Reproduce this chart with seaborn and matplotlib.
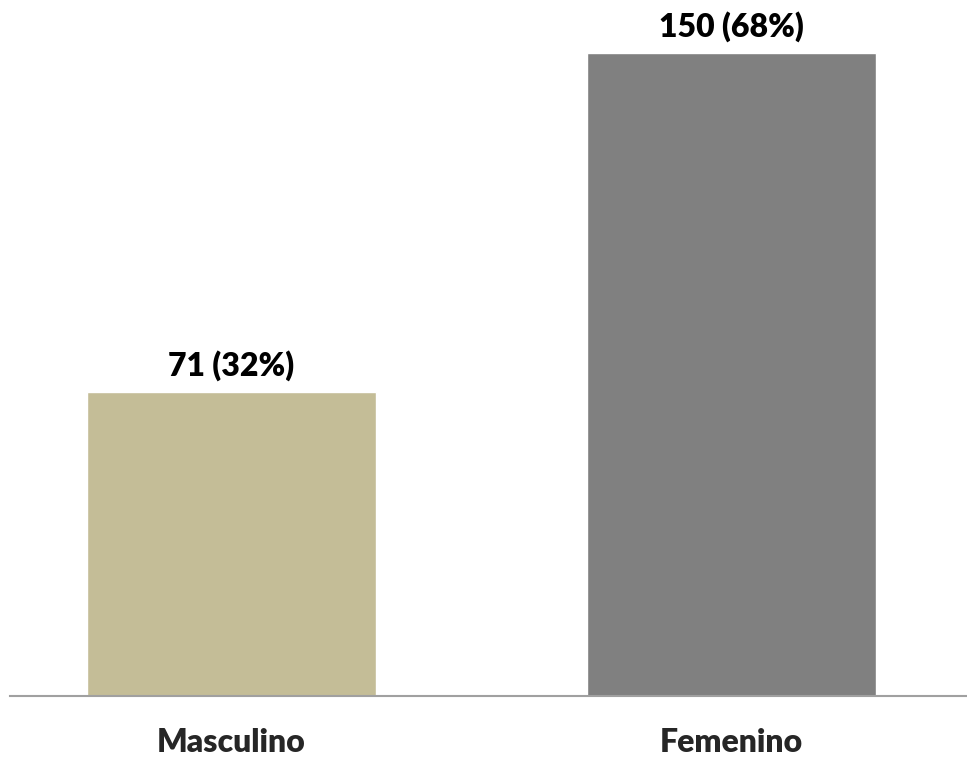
import matplotlib.pyplot as plt
import seaborn as sns
import pandas as pd

categorias = ["Masculino", "Femenino"]
valores = [71, 150]
porcentajes = [32, 68]
colores = ["#C4BD97", "#808080"]

sns.set_style("white")
plt.rcParams['font.family'] = ['Lato', 'DejaVu Sans']

df = pd.DataFrame({"sexo": categorias, "n": valores})

fig = plt.figure(figsize=(9.67, 7.6), dpi=100)
ax = fig.add_axes([10 / 967, 64 / 760, 957 / 967, 686 / 760])

sns.barplot(data=df, x="sexo", y="n", hue="sexo", palette=colores,
            width=0.578, saturation=1, legend=False, ax=ax)

for i, (v, p) in enumerate(zip(valores, porcentajes)):
    ax.text(i, v + 2.5, f"{v} ({p}%)", ha="center", va="bottom",
            fontsize=23, fontweight="heavy", color="black")

ax.set_xlim(-0.443, 1.471)
ax.set_ylim(0, 160)
ax.set_xlabel("")
ax.set_ylabel("")
ax.set_yticks([])
ax.tick_params(axis="x", length=0, pad=23, labelsize=23)
for lbl in ax.get_xticklabels():
    lbl.set_fontweight("heavy")

for s in ["top", "right", "left"]:
    ax.spines[s].set_visible(False)
ax.spines["bottom"].set_color("#A0A0A0")
ax.spines["bottom"].set_linewidth(1.5)

fig.savefig("out.png", dpi=100)
